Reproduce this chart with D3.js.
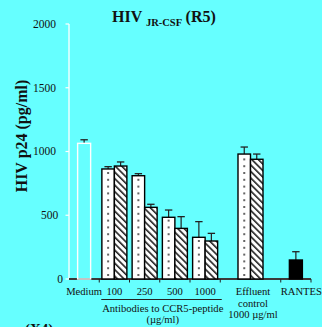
<!DOCTYPE html>
<html>
<head>
<meta charset="utf-8">
<script src="https://cdn.jsdelivr.net/npm/d3@7"></script>
<style>
  html, body { margin: 0; padding: 0; background: #66ffff; }
  svg { display: block; }
  text { font-family: "Liberation Serif", "Times New Roman", serif; fill: #111; }
</style>
</head>
<body>
<svg id="chart" width="322" height="327"></svg>
<script>
// Groups along the x axis
const groups = ["Medium", "100", "250", "500", "1000", "Effluent", "RANTES"];

// Paired series (dotted / hatched bars), p24 in pg/ml, with error bars
const dottedValues  = [null, 863, 810, 484, 327, 980, null];
const dottedErrors  = [null,  18,  16,  57, 123,  55, null];
const hatchedValues = [null, 886, 562, 397, 298, 939, null];
const hatchedErrors = [null,  32,  24,  92,  60,  41, null];

// Single bars (medium control and RANTES)
const singleValues = [1064, null, null, null, null, null, 149];
const singleErrors = [  28, null, null, null, null, null,  65];

const yTicks = [0, 500, 1000, 1500, 2000];
const concentrationLabels = ["100", "250", "500", "1000"];

const svg = d3.select("#chart");

// Slot layout: each group takes one slot, the effluent control takes two
const slotSpan = {
  "Medium": [0, 1], "100": [1, 2], "250": [2, 3], "500": [3, 4], "1000": [4, 5],
  "Effluent": [5, 7], "RANTES": [7, 8]
};
const x = d3.scaleLinear().domain([0, 8]).range([69, 311]);
const y = d3.scaleLinear().domain([0, 2000]).range([279, 24]);
const center = g => x((slotSpan[g][0] + slotSpan[g][1]) / 2);
const barW = 12.5;

// Hatch pattern for the second series (lines falling left to right)
const defs = svg.append("defs");
const hatch = defs.append("pattern")
  .attr("id", "hatch").attr("patternUnits", "userSpaceOnUse")
  .attr("width", 4.6).attr("height", 4.6)
  .attr("patternTransform", "rotate(-45)");
hatch.append("rect").attr("width", 4.6).attr("height", 4.6).attr("fill", "#fff");
hatch.append("rect").attr("x", 0).attr("width", 1.6).attr("height", 4.6).attr("fill", "#222");

// Y axis (white)
const yAxis = svg.append("g");
yAxis.append("line")
  .attr("x1", 69).attr("x2", 69).attr("y1", y(2000)).attr("y2", y(0))
  .attr("stroke", "#fff").attr("stroke-width", 1.3);
yAxis.selectAll("line.tick").data(yTicks).join("line")
  .attr("class", "tick")
  .attr("x1", 65.5).attr("x2", 69).attr("y1", d => y(d)).attr("y2", d => y(d))
  .attr("stroke", "#fff").attr("stroke-width", 1.2);
yAxis.selectAll("text").data(yTicks).join("text")
  .attr("x", d => 56 + (4 - String(d).length) * 2.3)
  .attr("y", d => y(d))
  .attr("dy", "0.34em")
  .attr("text-anchor", "end")
  .attr("font-size", 11.5)
  .attr("fill", "#222")
  .text(d => d);

// X axis baseline and ticks
svg.append("line")
  .attr("x1", x(0)).attr("x2", x(8)).attr("y1", y(0)).attr("y2", y(0))
  .attr("stroke", "#3a3a3a").attr("stroke-width", 2);
svg.selectAll("line.xtick").data([1, 2, 3, 4, 5, 7, 8]).join("line")
  .attr("class", "xtick")
  .attr("x1", d => x(d)).attr("x2", d => x(d))
  .attr("y1", y(0)).attr("y2", y(0) + 3.5)
  .attr("stroke", "#222").attr("stroke-width", 1);

// Bars
const bars = [];
groups.forEach((g, i) => {
  const c = center(g);
  if (dottedValues[i] != null) {
    bars.push({ g, kind: "dot", x0: c - barW, v: dottedValues[i], e: dottedErrors[i] });
    bars.push({ g, kind: "hatch", x0: c, v: hatchedValues[i], e: hatchedErrors[i] });
  }
  if (singleValues[i] != null) {
    bars.push({ g, kind: g === "Medium" ? "open" : "solid", x0: c - 6.5, w: 13, v: singleValues[i], e: singleErrors[i] });
  }
});
bars.forEach(b => { if (b.w == null) b.w = barW; });

const barG = svg.append("g");

// Error bars drawn first so bar outlines sit on top
barG.selectAll("g.err").data(bars).join("g").attr("class", "err")
  .each(function(b) {
    const g = d3.select(this);
    const cx = b.x0 + b.w / 2;
    g.append("line").attr("x1", cx).attr("x2", cx)
      .attr("y1", y(b.v)).attr("y2", y(b.v + b.e))
      .attr("stroke", "#222").attr("stroke-width", 1.2);
    g.append("line").attr("x1", cx - 3.7).attr("x2", cx + 3.7)
      .attr("y1", y(b.v + b.e)).attr("y2", y(b.v + b.e))
      .attr("stroke", "#222").attr("stroke-width", 1.3);
  });

barG.selectAll("rect.bar").data(bars).join("rect").attr("class", "bar")
  .attr("x", b => b.x0)
  .attr("y", b => y(b.v))
  .attr("width", b => b.w)
  .attr("height", b => y(0) - y(b.v))
  .attr("fill", b => b.kind === "open" ? "none" : b.kind === "solid" ? "#000" : b.kind === "hatch" ? "url(#hatch)" : "#fff")
  .attr("stroke", b => b.kind === "open" ? "#fff" : "#000")
  .attr("stroke-width", 1.4);

// Dot fill for the first series: a centred column of small dots
bars.filter(b => b.kind === "dot").forEach(b => {
  const cx = b.x0 + b.w / 2;
  const top = y(b.v);
  const pts = [];
  for (let yy = y(0) - 4; yy > top + 2.5; yy -= 6.8) pts.push(yy);
  barG.append("g").selectAll("rect").data(pts).join("rect")
    .attr("x", cx - 1).attr("y", d => d - 1)
    .attr("width", 2).attr("height", 2)
    .attr("fill", "#666");
});

// Title
const title = svg.append("text")
  .attr("x", 112).attr("y", 21.7)
  .attr("font-weight", "bold").attr("font-size", 16);
title.append("tspan").text("HIV ");
title.append("tspan").attr("font-size", 10.5).attr("dy", 4).text("JR-CSF");
title.append("tspan").attr("dy", -4).attr("dx", 3.5).text("(R5)");

// Y axis title
svg.append("text")
  .attr("transform", "translate(27.3,136) rotate(-90)")
  .attr("text-anchor", "middle")
  .attr("font-weight", "bold").attr("font-size", 16)
  .text("HIV p24 (pg/ml)");

// X labels
const labelSize = 10.6;
svg.append("text").attr("x", center("Medium")).attr("y", 295)
  .attr("text-anchor", "middle").attr("font-size", labelSize).text("Medium");
svg.selectAll("text.conc").data(concentrationLabels).join("text")
  .attr("class", "conc")
  .attr("x", d => center(d)).attr("y", 295)
  .attr("text-anchor", "middle").attr("font-size", labelSize).text(d => d);
svg.append("line")
  .attr("x1", x(1) + 2).attr("x2", x(5) + 1.5).attr("y1", 299.5).attr("y2", 299.5)
  .attr("stroke", "#222").attr("stroke-width", 1);
svg.append("text").attr("x", (x(1) + x(5)) / 2 + 3).attr("y", 311.7)
  .attr("text-anchor", "middle").attr("font-size", labelSize).text("Antibodies to CCR5-peptide");
svg.append("text").attr("x", (x(1) + x(5)) / 2 + 3).attr("y", 323.3)
  .attr("text-anchor", "middle").attr("font-size", labelSize).text("(\u00b5g/ml)");

const effluentLines = ["Effluent", "control", "1000 \u00b5g/ml"];
svg.selectAll("text.eff").data(effluentLines).join("text")
  .attr("class", "eff")
  .attr("x", center("Effluent") + 2.5)
  .attr("y", (d, i) => 295 + i * 11.6)
  .attr("text-anchor", "middle").attr("font-size", labelSize).text(d => d);

svg.append("text").attr("x", x(7)).attr("y", 295)
  .attr("font-size", labelSize).text("RANTES");

// Panel marker for the next chart
svg.append("text").attr("x", 25).attr("y", 334)
  .attr("font-weight", "bold").attr("font-size", 15).text("(X4)");
</script>
</body>
</html>
